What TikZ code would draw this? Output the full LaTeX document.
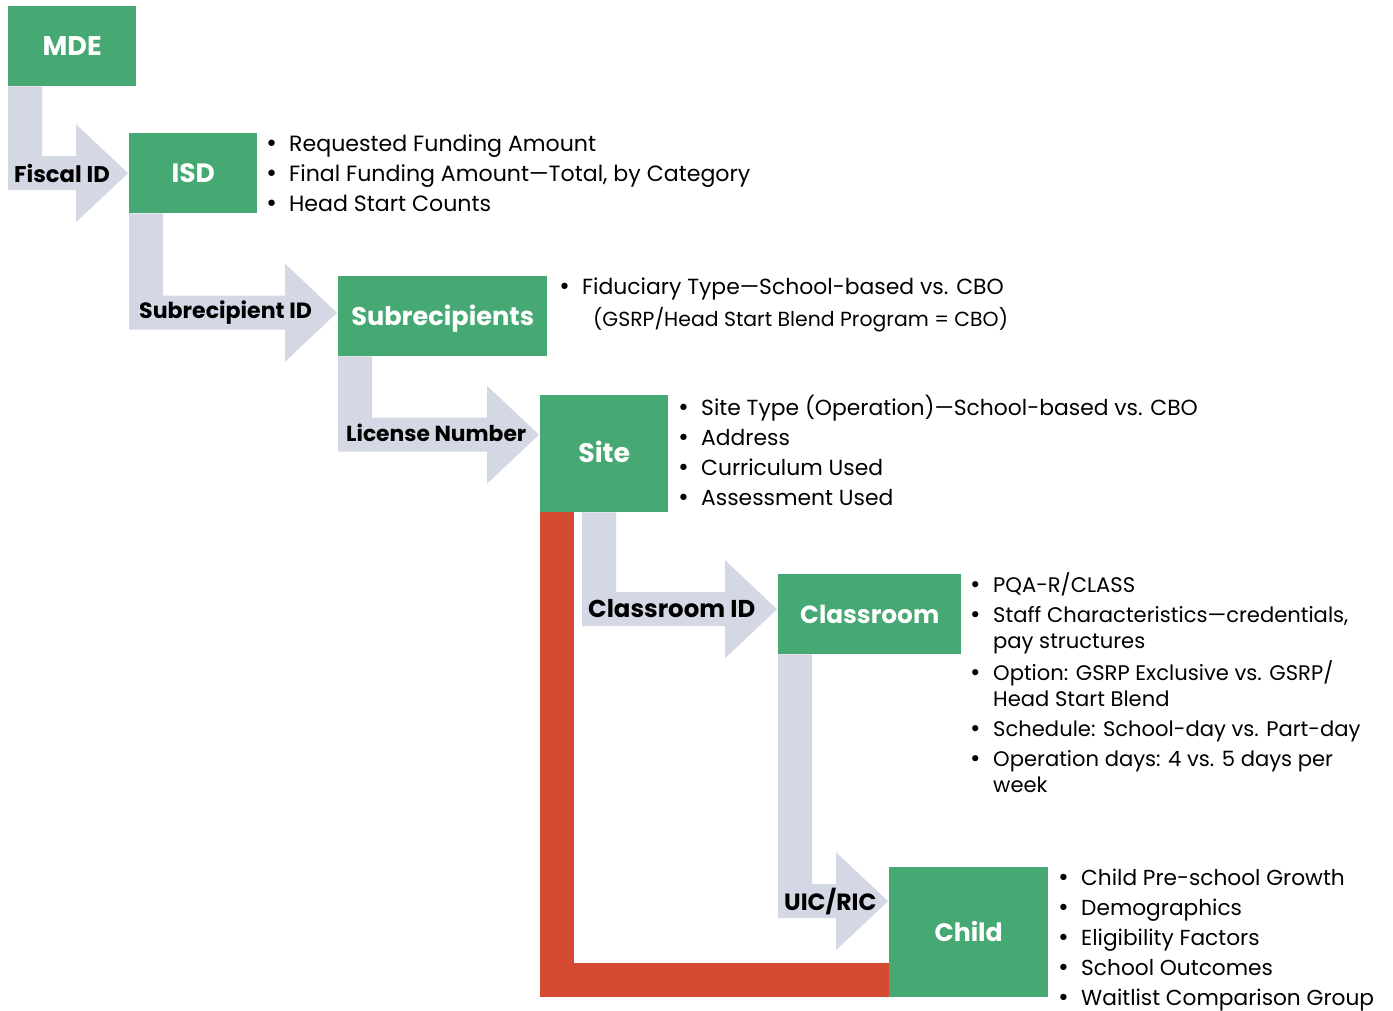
\documentclass[tikz,border=0pt]{standalone}
\usepackage{fontspec}
\setmainfont{Poppins}
\newfontfamily\bulfont{DejaVu Sans}
\usetikzlibrary{calc}
\pgfdeclarelayer{background}
\pgfsetlayers{background,main}
\definecolor{boxgreen}{RGB}{70,168,114}
\definecolor{arrowgray}{RGB}{212,215,228}
\definecolor{linkred}{RGB}{213,75,50}
\newcommand{\grayflow}[3]{%
  \fill[arrowgray] (#1) coordinate (s0) -- ++(34,0)
    |- ($(#2.west)+(-53,#3-17)$) -- ++(0,-32)
    -- ($(#2.west)+(-1,#3)$)
    -- ($(#2.west)+(-53,#3+49)$) -- ++(0,-32)
    -| (s0) -- cycle;}
\newcommand{\blist}[1]{\begin{tabular}[t]{@{}p{24pt}@{}l@{}}#1\end{tabular}}
\newcommand{\bul}{{\bulfont\textbullet}}
\tikzset{
  box/.style={fill=boxgreen, text=white, inner sep=0pt, anchor=north west,
    font=\bfseries\fontsize{#1}{#1}\selectfont, text height=18pt, text depth=0pt},
  box/.default=25.5,
  flowlabel/.style={inner sep=0pt, anchor=base west, text=black,
    font=\bfseries\fontsize{#1}{#1}\selectfont},
  listtext/.style={inner sep=0pt, anchor=base west, text=black,
    font=\fontsize{#1}{30}\selectfont},
  listtext/.default=21.8,
}
\begin{document}
\begin{tikzpicture}[x=1pt,y=-1pt]
\useasboundingbox (0,0) rectangle (1393,1010);
% boxes
\node[box=27, minimum width=128pt, minimum height=80pt] (mde) at (8,6) {MDE};
\node[box=26.5, minimum width=128pt, minimum height=80pt] (isd) at (129,133) {ISD};
\node[box=25.6, minimum width=209pt, minimum height=80pt] (sub) at (338,276) {Subrecipients};
\node[box=26.8, minimum width=128pt, minimum height=117pt] (site) at (540,395) {Site};
\node[box=24.8, minimum width=183pt, minimum height=80pt] (cls) at (778,574) {Classroom};
\node[box=25.2, minimum width=159pt, minimum height=130pt] (child) at (889,867) {Child};
% connectors
\begin{pgfonlayer}{background}
\fill[white] (0,0) rectangle (1393,1010);
\grayflow{mde.south west}{isd}{0}
\grayflow{isd.south west}{sub}{-3.5}
\grayflow{sub.south west}{site}{-19}
\grayflow{$(site.south west)+(42,0)$}{cls}{-5}
\grayflow{cls.south west}{child}{-31}
\draw[linkred, line width=34pt] ($(site.south west)+(17,0)$) |- ($(child.south west)+(0,-17)$);
\end{pgfonlayer}
% flow labels
\node[flowlabel=22.7] (lfiscal) at (14,182) {Fiscal ID};
\node[flowlabel=22.1] (lsubid) at (139,318) {Subrecipient ID};
\node[flowlabel=21.8] (llic) at (346,441) {License Number};
\node[flowlabel=24.4] (lclsid) at (588,617) {Classroom ID};
\node[flowlabel=23.5] (luic) at (784,910) {UIC/RIC};
% lists
\node[listtext=22.1] (isdlist) at (265,151.5) {\blist{\bul & Requested Funding Amount\\ \bul & Final Funding Amount—Total, by Category\\ \bul & Head Start Counts}};
\node[listtext=21.9] (sublist) at (558,294.5) {\blist{\bul & Fiduciary Type—School-based vs. CBO}};
\node[listtext=20.4] (subnote) at (593,326) {(GSRP/Head Start Blend Program = CBO)};
\node[listtext=21.85] (sitelist) at (677,415.5) {\blist{\bul & Site Type (Operation)—School-based vs. CBO\\ \bul & Address\\ \bul & Curriculum Used\\ \bul & Assessment Used}};
\node[listtext=21.1, font=\fontsize{21.1}{26}\selectfont] (clslist) at (969,592.5) {\blist{\bul & PQA-R/CLASS\\[4pt] \bul & Staff Characteristics—credentials,\\ & pay structures\\[4pt] \bul & Option: GSRP Exclusive vs. GSRP/\\ & Head Start Blend\\[4pt] \bul & Schedule: School-day vs. Part-day\\[4pt] \bul & Operation days: 4 vs. 5 days per\\ & week}};
\node[listtext=21.7] (childlist) at (1057,885) {\blist{\bul & Child Pre-school Growth\\ \bul & Demographics\\ \bul & Eligibility Factors\\ \bul & School Outcomes\\ \bul & Waitlist Comparison Group}};
\end{tikzpicture}
\end{document}
